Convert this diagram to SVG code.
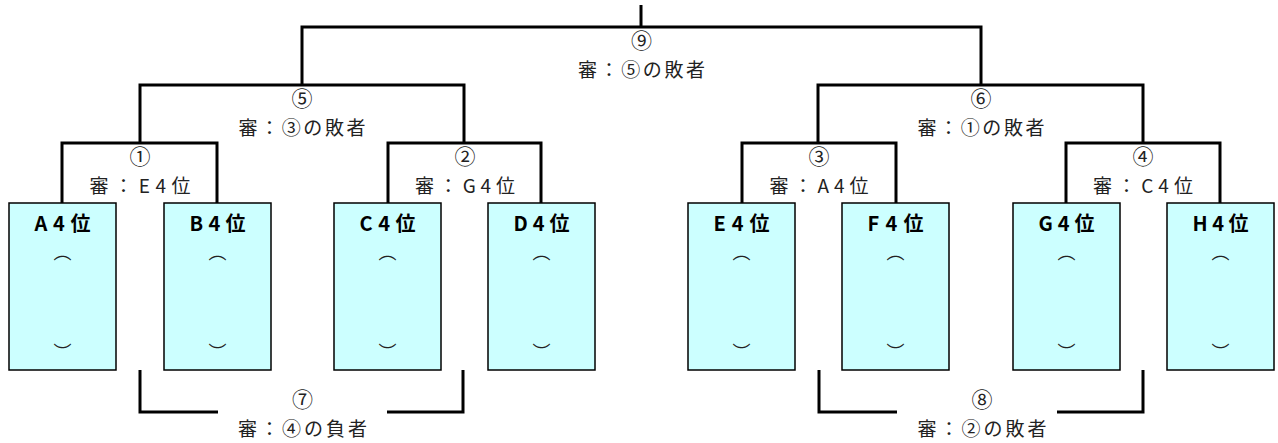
<svg xmlns="http://www.w3.org/2000/svg" width="1278" height="443" viewBox="0 0 1278 443">
<style>
.box{fill:#ccffff;stroke:#000;stroke-width:1.5}
.ln{fill:none;stroke:#000;stroke-width:3;stroke-linecap:butt;stroke-linejoin:miter}
.nm{font-family:"Noto Sans CJK JP","Noto Sans",sans-serif;font-size:20px;font-weight:bold;fill:#000;text-anchor:middle;dominant-baseline:central}
.pr{font-family:"Noto Sans CJK JP",sans-serif;font-size:18px;fill:#222;text-anchor:middle;dominant-baseline:central}
.lb{font-family:"Noto Sans CJK JP","Noto Sans",sans-serif;font-size:19px;fill:#222;text-anchor:middle;dominant-baseline:central}
.cn{font-family:"Noto Sans CJK JP","Noto Sans",sans-serif;font-size:21px;fill:#222;text-anchor:middle;dominant-baseline:central}
</style>
<rect width="1278" height="443" fill="#fff"/>
<g id="connectors">
<path class="ln" d="M641,5V27M302,85V27H981V85"/>
<path class="ln" d="M140,143V85H464V143"/>
<path class="ln" d="M62,203V143H217V203M388,203V143H541V203"/>
<path class="ln" d="M818,143V85H1143V143"/>
<path class="ln" d="M742,203V143H896V203M1066,203V143H1220V203"/>
<path class="ln" d="M140,370V412H218M387,412H463V370"/>
<path class="ln" d="M819,370V412H897M1057,412H1143V370"/>
</g>
<g id="m9"><text class="cn" x="641.5" y="39">⑨</text><text class="lb" x="641.5" y="68" textLength="127" lengthAdjust="spacing">審：⑤の敗者</text></g>
<g id="m5"><text class="cn" x="302" y="97">⑤</text><text class="lb" x="302" y="126" textLength="127" lengthAdjust="spacing">審：③の敗者</text></g>
<g id="m6"><text class="cn" x="981" y="97">⑥</text><text class="lb" x="981" y="126" textLength="127" lengthAdjust="spacing">審：①の敗者</text></g>
<g id="m1"><text class="cn" x="140" y="155">①</text><text class="lb" x="140" y="184" textLength="101" lengthAdjust="spacing">審：E4位</text></g>
<g id="m2"><text class="cn" x="465" y="155">②</text><text class="lb" x="465" y="184" textLength="100" lengthAdjust="spacing">審：G4位</text></g>
<g id="m3"><text class="cn" x="819" y="155">③</text><text class="lb" x="819" y="184" textLength="99" lengthAdjust="spacing">審：A4位</text></g>
<g id="m4"><text class="cn" x="1143" y="155">④</text><text class="lb" x="1143" y="184" textLength="100" lengthAdjust="spacing">審：C4位</text></g>
<g id="m7"><text class="cn" x="302.5" y="398">⑦</text><text class="lb" x="302.5" y="427" textLength="129" lengthAdjust="spacing">審：④の負者</text></g>
<g id="m8"><text class="cn" x="982" y="398">⑧</text><text class="lb" x="982" y="427" textLength="129" lengthAdjust="spacing">審：②の敗者</text></g>
<g id="A"><rect class="box" x="9" y="203" width="107" height="167"/><text class="nm" x="62.5" y="222" textLength="56" lengthAdjust="spacing">A4位</text><text class="pr" x="62.5" y="251">︵</text><text class="pr" x="62.5" y="351">︶</text></g>
<g id="B"><rect class="box" x="164" y="203" width="107" height="167"/><text class="nm" x="217.5" y="222" textLength="56" lengthAdjust="spacing">B4位</text><text class="pr" x="217.5" y="251">︵</text><text class="pr" x="217.5" y="351">︶</text></g>
<g id="C"><rect class="box" x="334" y="203" width="107" height="167"/><text class="nm" x="387.5" y="222" textLength="56" lengthAdjust="spacing">C4位</text><text class="pr" x="387.5" y="251">︵</text><text class="pr" x="387.5" y="351">︶</text></g>
<g id="D"><rect class="box" x="488" y="203" width="107" height="167"/><text class="nm" x="541.5" y="222" textLength="56" lengthAdjust="spacing">D4位</text><text class="pr" x="541.5" y="251">︵</text><text class="pr" x="541.5" y="351">︶</text></g>
<g id="E"><rect class="box" x="688" y="203" width="107" height="167"/><text class="nm" x="741.5" y="222" textLength="56" lengthAdjust="spacing">E4位</text><text class="pr" x="741.5" y="251">︵</text><text class="pr" x="741.5" y="351">︶</text></g>
<g id="F"><rect class="box" x="842" y="203" width="107" height="167"/><text class="nm" x="895.5" y="222" textLength="56" lengthAdjust="spacing">F4位</text><text class="pr" x="895.5" y="251">︵</text><text class="pr" x="895.5" y="351">︶</text></g>
<g id="G"><rect class="box" x="1013" y="203" width="107" height="167"/><text class="nm" x="1066.5" y="222" textLength="56" lengthAdjust="spacing">G4位</text><text class="pr" x="1066.5" y="251">︵</text><text class="pr" x="1066.5" y="351">︶</text></g>
<g id="H"><rect class="box" x="1167" y="203" width="107" height="167"/><text class="nm" x="1220.5" y="222" textLength="56" lengthAdjust="spacing">H4位</text><text class="pr" x="1220.5" y="251">︵</text><text class="pr" x="1220.5" y="351">︶</text></g>
</svg>
